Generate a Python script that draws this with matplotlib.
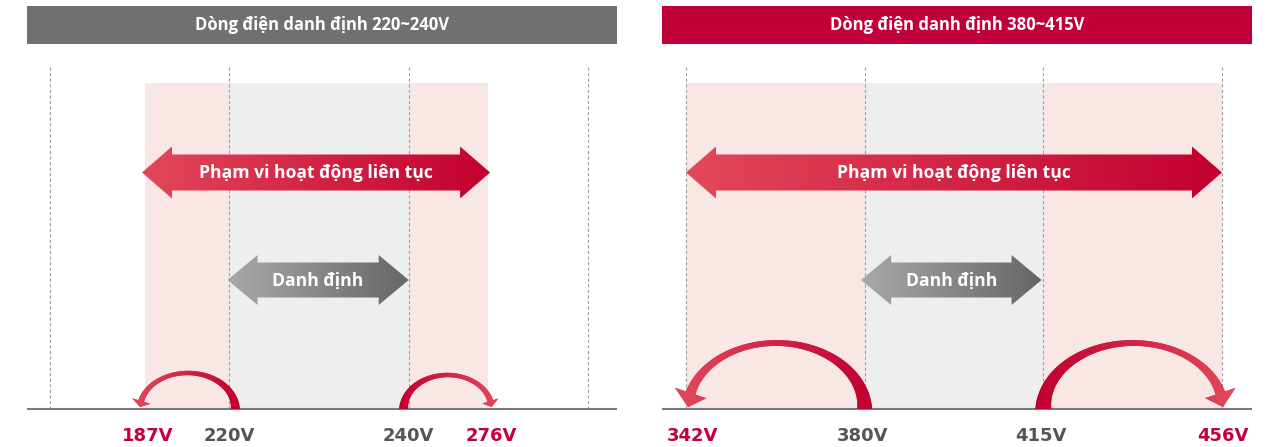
import numpy as np
import matplotlib
matplotlib.use("Agg")
import matplotlib.pyplot as plt
from matplotlib.patches import Rectangle, Polygon
from matplotlib.colors import LinearSegmentedColormap

# ---------------- data ----------------
left_title = "Dòng điện danh định 220~240V"
right_title = "Dòng điện danh định 380~415V"
range_label = "Phạm vi hoạt động liên tục"
rated_label = "Danh định"
left_labels = ["187V", "220V", "240V", "276V"]
right_labels = ["342V", "380V", "415V", "456V"]
label_is_limit = [True, False, False, True]

# ---------------- layout ----------------
W, H = 1277, 447
left_pos = [0.53, 1.0, 2.0, 2.44]      # slot positions of the four voltages
right_pos = [0.0, 1.0, 2.0, 3.0]
grid_slots = [0, 1, 2, 3]
# arc spec: (from index, to index, base offset px, tip offset px, height px,
#            w_base, w_mid, w_end, head_w, head_len)
panels = [
    dict(ax_px=(27, 617), slot0=50, slot3=588, title=left_title, labels=left_labels,
         pos=left_pos, head_color="#707070", big=(0.513, 2.454), small=(0.99, 2.0),
         lab_off=[3, 0, 0, 4],
         arcs=[(1, 0, 6, -5, 36, 9, 4.5, 6, 19, 8), (2, 3, -5, 4, 34, 9, 4.5, 6, 17, 8)]),
    dict(ax_px=(662, 1252), slot0=686, slot3=1222, title=right_title, labels=right_labels,
         pos=right_pos, head_color="#c1003a", big=(0.0, 3.0), small=(0.98, 1.99),
         lab_off=[6, -2, -2, 1],
         arcs=[(1, 0, 0, 2, 66, 15, 6, 10, 33, 16), (2, 3, 0, 1, 66, 16, 6, 10, 32, 16)]),
]

BASE_Y = 409
REGION_TOP = 83
GRID_TOP = 67
PINK = "#f9e7e6"
GREY_BG = "#eeeeee"
RED_TXT = "#c4003a"
GREY_TXT = "#555555"

red_cmap = LinearSegmentedColormap.from_list("r", ["#e2485a", "#c3002f"])
grey_cmap = LinearSegmentedColormap.from_list("g", ["#a9a9a9", "#666666"])

fig = plt.figure(figsize=(W / 100, H / 100), dpi=100)
grad = np.linspace(0, 1, 256).reshape(1, -1)


def double_arrow(ax, x0, x1, yc, body_h, head_h, head_len_px, slot_px, cmap, text, fs):
    hl = head_len_px / slot_px
    verts = [
        (x0, yc), (x0 + hl, yc - head_h / 2), (x0 + hl, yc - body_h / 2),
        (x1 - hl, yc - body_h / 2), (x1 - hl, yc - head_h / 2), (x1, yc),
        (x1 - hl, yc + head_h / 2), (x1 - hl, yc + body_h / 2),
        (x0 + hl, yc + body_h / 2), (x0 + hl, yc + head_h / 2),
    ]
    poly = Polygon(verts, closed=True, transform=ax.transData, facecolor="none", edgecolor="none")
    ax.add_patch(poly)
    im = ax.imshow(grad, extent=[x0, x1, yc + head_h / 2, yc - head_h / 2], aspect="auto",
                   cmap=cmap, zorder=3, interpolation="bilinear")
    im.set_clip_path(poly)
    ax.text((x0 + x1) / 2, yc + 1, text, ha="center", va="center", color="white",
            fontsize=fs, fontweight="bold", family=["Open Sans", "DejaVu Sans"], zorder=4)


def curved_arrow(ax, xb, xt, height, wb, wm, we, head_w, head_len, slot_px):
    """xb, xt in pixel offsets (relative to slot 0); builds a tapered elliptical swoosh."""
    d = np.sign(xt - xb)
    cx = (xb + xt) / 2
    a = abs(xt - xb) / 2
    # find theta_end so that the head occupies the last head_len px (approx, vertical end)
    th_end = np.pi - np.arcsin(min(head_len / height, 0.99))
    th = np.linspace(0, th_end, 120)
    x = cx - d * a * np.cos(th)
    y = BASE_Y - height * np.sin(th)
    dx = d * a * np.sin(th)
    dy = -height * np.cos(th)
    nrm = np.hypot(dx, dy)
    nx, ny = -dy / nrm, dx / nrm
    t = th / th_end
    w = wb * (1 - t) * (1 - 2 * t) + wm * 4 * t * (1 - t) + we * t * (2 * t - 1)
    ox, oy = x + nx * w / 2, y + ny * w / 2
    ix, iy = x - nx * w / 2, y - ny * w / 2
    # arrow head
    hx, hy = x[-1], y[-1]
    w1 = (hx + nx[-1] * head_w / 2, hy + ny[-1] * head_w / 2)
    w2 = (hx - nx[-1] * head_w / 2, hy - ny[-1] * head_w / 2)
    tip = (cx + d * a, BASE_Y - 2)
    px = list(ox) + [w1[0], tip[0], w2[0]] + list(ix[::-1])
    py = list(oy) + [w1[1], tip[1], w2[1]] + list(iy[::-1])
    verts = np.column_stack([np.array(px) / slot_px, py])
    poly = Polygon(verts, closed=True, transform=ax.transData, facecolor="#d42a45",
                   edgecolor="none", zorder=3)
    ax.add_patch(poly)
    lo, hi = verts[:, 0].min(), verts[:, 0].max()
    cols = ["#c0002f", "#e24a5a"] if d > 0 else ["#e24a5a", "#c0002f"]
    cm = LinearSegmentedColormap.from_list("arc", cols)
    im = ax.imshow(grad, extent=[lo, hi, BASE_Y + 2, BASE_Y - height - 10], aspect="auto",
                   cmap=cm, zorder=3.5, interpolation="bilinear")
    im.set_clip_path(poly)


for p in panels:
    a0, a1 = p["ax_px"]
    slot_px = (p["slot3"] - p["slot0"]) / 3
    ax = fig.add_axes([a0 / W, 0, (a1 - a0) / W, 1])
    ax.set_xlim(-(p["slot0"] - a0) / slot_px, (a1 - p["slot0"]) / slot_px)
    ax.set_ylim(H, 0)
    ax.axis("off")
    xl, xr = ax.get_xlim()
    pos = p["pos"]

    # header
    ax.add_patch(Rectangle((xl, 6), xr - xl, 38, facecolor=p["head_color"], edgecolor="none", zorder=2))
    ax.text((xl + xr) / 2, 25.5, p["title"], ha="center", va="center", color="white",
            fontsize=12, fontweight="bold", family=["Open Sans", "DejaVu Sans"], zorder=3)

    # background regions
    ax.add_patch(Rectangle((pos[0], REGION_TOP), pos[1] - pos[0], BASE_Y - REGION_TOP,
                           facecolor=PINK, edgecolor="none", zorder=0))
    ax.add_patch(Rectangle((pos[1], REGION_TOP), pos[2] - pos[1], BASE_Y - REGION_TOP,
                           facecolor=GREY_BG, edgecolor="none", zorder=0))
    ax.add_patch(Rectangle((pos[2], REGION_TOP), pos[3] - pos[2], BASE_Y - REGION_TOP,
                           facecolor=PINK, edgecolor="none", zorder=0))

    # dashed guides
    for s in grid_slots:
        ax.plot([s, s], [GRID_TOP, BASE_Y], color="#a0a0a0", lw=0.8,
                linestyle=(0, (3, 2)), zorder=1)

    # baseline
    ax.plot([xl, xr], [BASE_Y, BASE_Y], color="#7a7a7a", lw=1.5, zorder=2, solid_capstyle="butt")

    # straight arrows
    double_arrow(ax, p["big"][0], p["big"][1], 172.5, 36, 52, 30, slot_px, red_cmap, range_label, 12.6)
    double_arrow(ax, p["small"][0], p["small"][1], 280, 35, 50, 30, slot_px, grey_cmap, rated_label, 12.6)

    # curved arrows
    for i0, i1, ob, ot, hgt, wb, wm, we, hw, hl in p["arcs"]:
        xb = pos[i0] * slot_px + ob
        xt = pos[i1] * slot_px + ot
        curved_arrow(ax, xb, xt, hgt, wb, wm, we, hw, hl, slot_px)

    # bottom labels
    for x, lab, lim, off in zip(pos, p["labels"], label_is_limit, p["lab_off"]):
        ax.text(x + off / slot_px, 436, lab, ha="center", va="center", fontsize=13, fontweight="bold",
                color=RED_TXT if lim else GREY_TXT, family=["DejaVu Sans"], clip_on=False)

    ax.set_xlim(xl, xr)
    ax.set_ylim(H, 0)

fig.savefig("out.png", dpi=100, facecolor="white")
